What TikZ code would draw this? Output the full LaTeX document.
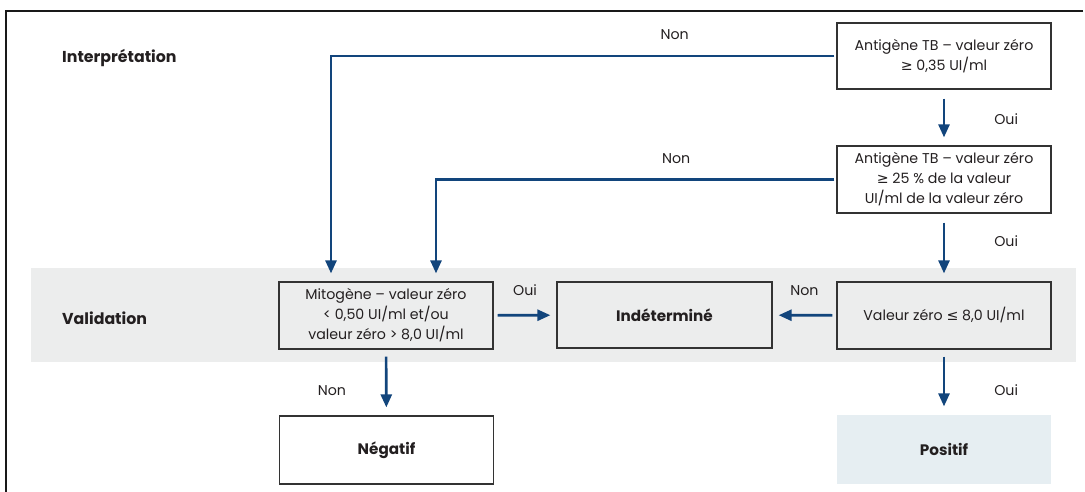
\documentclass[tikz,border=0pt]{standalone}
\usepackage{fontspec}
\setmainfont{Poppins}
\newfontfamily\symfont{DejaVu Sans}
\usetikzlibrary{positioning, arrows.meta, calc}
\definecolor{myblue}{RGB}{18, 69, 124}
\definecolor{bandgray}{RGB}{236, 237, 237}
\definecolor{posfill}{RGB}{230, 238, 242}
\definecolor{txtgray}{RGB}{35, 31, 32}
\newcommand{\geqs}{{\symfont ≥}}
\newcommand{\leqs}{{\symfont ≤}}

\begin{document}
\begin{tikzpicture}[x=1pt, y=-1pt,
    font=\fontsize{14.2}{20}\selectfont, text=txtgray,
    node/.style={draw=black!80, line width=1.2pt, rectangle, align=center, minimum width=214pt, minimum height=67pt, inner sep=0pt},
    result/.style={node, font=\fontsize{15.2}{18}\selectfont\bfseries},
    head/.style={anchor=west, inner sep=0pt, font=\fontsize{15.8}{18}\selectfont\bfseries},
    lbl/.style={inner sep=0pt},
    arrow/.style={-{Triangle[length=13pt, width=11pt]}, draw=myblue, line width=2.6pt}]
\useasboundingbox (0,0) rectangle (1085,492);
\fill[bandgray] (31,268) rectangle (1076,362);
\draw[line width=2.5pt, black!90] (1083,11) -- (6,11) -- (6,492);

\node[head] (interp) at (62,58) {Interprétation};
\node[head] (valid) at (62,318) {Validation};

\node[node, minimum height=66pt] (tb1) at (944,56) {Antigène TB – valeur zéro\\ \geqs{} 0,35 UI/ml};
\node[node] (tb2) at (944,179.5) {Antigène TB – valeur zéro\\ \geqs{} 25 \% de la valeur\\ UI/ml de la valeur zéro};
\node[node] (zero) at (944,315.5) {Valeur zéro \leqs{} 8,0 UI/ml};
\node[node] (mito) at (386,315.5) {Mitogène – valeur zéro\\ < 0,50 UI/ml et/ou\\ valeur zéro > 8,0 UI/ml};
\node[result, minimum width=215pt, minimum height=66pt] (indet) at (664.5,315) {Indéterminé};
\node[result, minimum height=68pt] (neg) at (386.5,450) {Négatif};
\node[result, draw=none, fill=posfill, minimum height=69pt] (pos) at (944,449.5) {Positif};

\draw[arrow, shorten <=9pt, shorten >=8pt] (tb1) -- node[lbl, midway, right=49pt, yshift=-2pt] {Oui} (tb2);
\draw[arrow, shorten <=9pt, shorten >=8pt] (tb2) -- node[lbl, midway, right=49pt, yshift=6pt] {Oui} (zero);
\draw[arrow, shorten <=7pt, shorten >=8pt] (zero) -- node[lbl, midway, right=49pt, yshift=-8pt] {Oui} (pos);
\draw[arrow, shorten <=7pt, shorten >=8pt] (mito) -- node[lbl, midway, left=39pt, yshift=-8pt] {Non} (neg);
\draw[arrow, shorten <=4pt, shorten >=6pt] (mito) -- node[lbl, midway, above=18pt] {Oui} (indet);
\draw[arrow, shorten <=4pt, shorten >=6pt] (zero) -- node[lbl, midway, above=18pt] {Non} (indet);
\draw[arrow, shorten <=2pt, shorten >=8pt] (tb1.west) -| node[lbl, pos=0.16, above=15pt] {Non} ($(mito.north)+(-55,0)$);
\draw[arrow, shorten <=2pt, shorten >=8pt] (tb2.west) -| node[lbl, pos=0.2, above=15pt] {Non} ($(mito.north)+(50,0)$);
\end{tikzpicture}
\end{document}
